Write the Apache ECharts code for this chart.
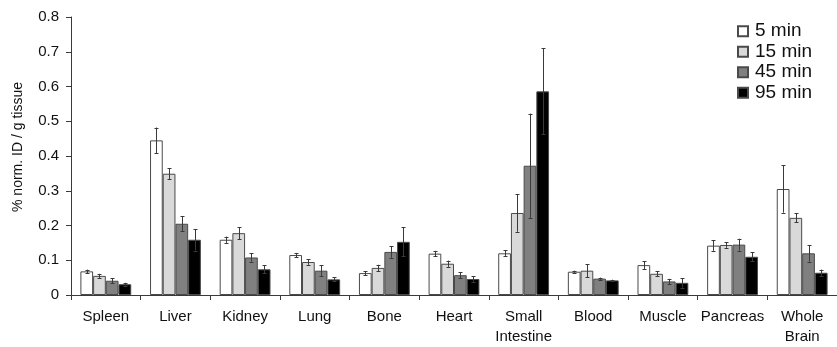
<!DOCTYPE html>
<html>
<head>
<meta charset="utf-8">
<script src="https://cdn.jsdelivr.net/npm/echarts@6/dist/echarts.min.js"></script>
<style>
html,body{margin:0;padding:0;background:#fff;overflow:hidden;}
#chart{width:837px;height:347px;}
</style>
</head>
<body>
<div id="chart"></div>
<script>
const categories = ['Spleen','Liver','Kidney','Lung','Bone','Heart','Small\nIntestine','Blood','Muscle','Pancreas','Whole\nBrain'];
const seriesNames = ['5 min','15 min','45 min','95 min'];
const min5 = [0.068, 0.445, 0.159, 0.115, 0.063, 0.119, 0.120, 0.067, 0.086, 0.142, 0.305];
const min5Err = [0.005, 0.037, 0.009, 0.006, 0.006, 0.008, 0.009, 0.003, 0.011, 0.015, 0.068];
const min15 = [0.055, 0.349, 0.178, 0.095, 0.078, 0.090, 0.236, 0.070, 0.061, 0.144, 0.222];
const min15Err = [0.006, 0.016, 0.017, 0.008, 0.009, 0.009, 0.054, 0.019, 0.007, 0.008, 0.013];
const min45 = [0.041, 0.205, 0.108, 0.070, 0.124, 0.057, 0.372, 0.047, 0.039, 0.145, 0.120];
const min45Err = [0.007, 0.021, 0.012, 0.015, 0.017, 0.009, 0.150, 0.003, 0.0075, 0.017, 0.024];
const min95 = [0.031, 0.159, 0.074, 0.045, 0.153, 0.046, 0.586, 0.042, 0.035, 0.110, 0.064];
const min95Err = [0.004, 0.031, 0.012, 0.006, 0.042, 0.008, 0.124, 0.002, 0.014, 0.013, 0.009];
const yTicks = [0, 0.1, 0.2, 0.3, 0.4, 0.5, 0.6, 0.7, 0.8];

const values = [min5, min15, min45, min95];
const errors = [min5Err, min15Err, min45Err, min95Err];
const colors = ['#ffffff', '#d9d9d9', '#808080', '#000000'];
const CAT_GAP = 0.27;
const FONT = 'Liberation Sans, Arial, sans-serif';

const chart = echarts.init(document.getElementById('chart'), null, {renderer: 'canvas'});

const series = [];
seriesNames.forEach((name, i) => {
  series.push({
    name: name,
    type: 'bar',
    data: values[i],
    barGap: '0%',
    barCategoryGap: (CAT_GAP * 100) + '%',
    itemStyle: {color: colors[i], borderColor: '#4a4a4a', borderWidth: 1},
    emphasis: {disabled: true},
    z: 2
  });
});
seriesNames.forEach((name, i) => {
  series.push({
    type: 'custom',
    name: name + ' err',
    data: values[i].map((v, k) => [k, v - errors[i][k], v + errors[i][k]]),
    encode: {x: 0, y: [1, 2]},
    z: 5,
    silent: true,
    renderItem: function (params, api) {
      const k = api.value(0);
      const lo = api.coord([k, api.value(1)]);
      const hi = api.coord([k, api.value(2)]);
      const band = api.size([1, 0])[0];
      const bw = band * (1 - CAT_GAP) / 4;
      const x = Math.round(lo[0] + (i - 1.5) * bw) + 0.5;
      const cap = 2;
      const st = {stroke: '#3a3a3a', lineWidth: 1};
      return {
        type: 'group',
        children: [
          {type: 'line', shape: {x1: x, y1: lo[1], x2: x, y2: hi[1]}, style: st},
          {type: 'line', shape: {x1: x - cap, y1: Math.round(lo[1]) + 0.5, x2: x + cap, y2: Math.round(lo[1]) + 0.5}, style: st},
          {type: 'line', shape: {x1: x - cap, y1: Math.round(hi[1]) + 0.5, x2: x + cap, y2: Math.round(hi[1]) + 0.5}, style: st}
        ]
      };
    }
  });
});

chart.setOption({
  animation: false,
  backgroundColor: '#ffffff',
  grid: {left: 71, right: -6, top: 17, bottom: 46, containLabel: false},
  legend: {
    data: seriesNames,
    orient: 'vertical',
    left: 732,
    top: 16,
    icon: 'rect',
    itemWidth: 10,
    itemHeight: 10,
    itemGap: 0,
    selectedMode: false,
    textStyle: {fontFamily: FONT, fontSize: 19, color: '#111', lineHeight: 20.5, padding: [0, 0, 0, 2]}
  },
  graphic: [{
    type: 'text',
    x: 18,
    y: 147,
    rotation: Math.PI / 2,
    style: {
      text: '% norm. ID / g tissue',
      fontFamily: FONT,
      fontSize: 14,
      fill: '#111',
      textAlign: 'center',
      textVerticalAlign: 'middle'
    }
  }],
  xAxis: {
    type: 'category',
    data: categories,
    axisLine: {lineStyle: {color: '#3a3a3a', width: 1}},
    axisTick: {show: true, length: 5, inside: false, alignWithLabel: false, lineStyle: {color: '#3a3a3a'}},
    axisLabel: {fontFamily: FONT, fontSize: 15, color: '#111', margin: 12, interval: 0, lineHeight: 20},
    splitLine: {show: false}
  },
  yAxis: {
    type: 'value',
    min: yTicks[0],
    max: yTicks[yTicks.length - 1],
    interval: 0.1,
    axisLine: {show: true, lineStyle: {color: '#3a3a3a', width: 1}},
    axisTick: {show: true, length: 5, inside: false, lineStyle: {color: '#3a3a3a'}},
    axisLabel: {fontFamily: FONT, fontSize: 15, color: '#111', margin: 12,
      formatter: v => (Math.abs(v) < 1e-9 ? '0' : v.toFixed(1))},
    splitLine: {show: false}
  },
  series: series
});
</script>
</body>
</html>
